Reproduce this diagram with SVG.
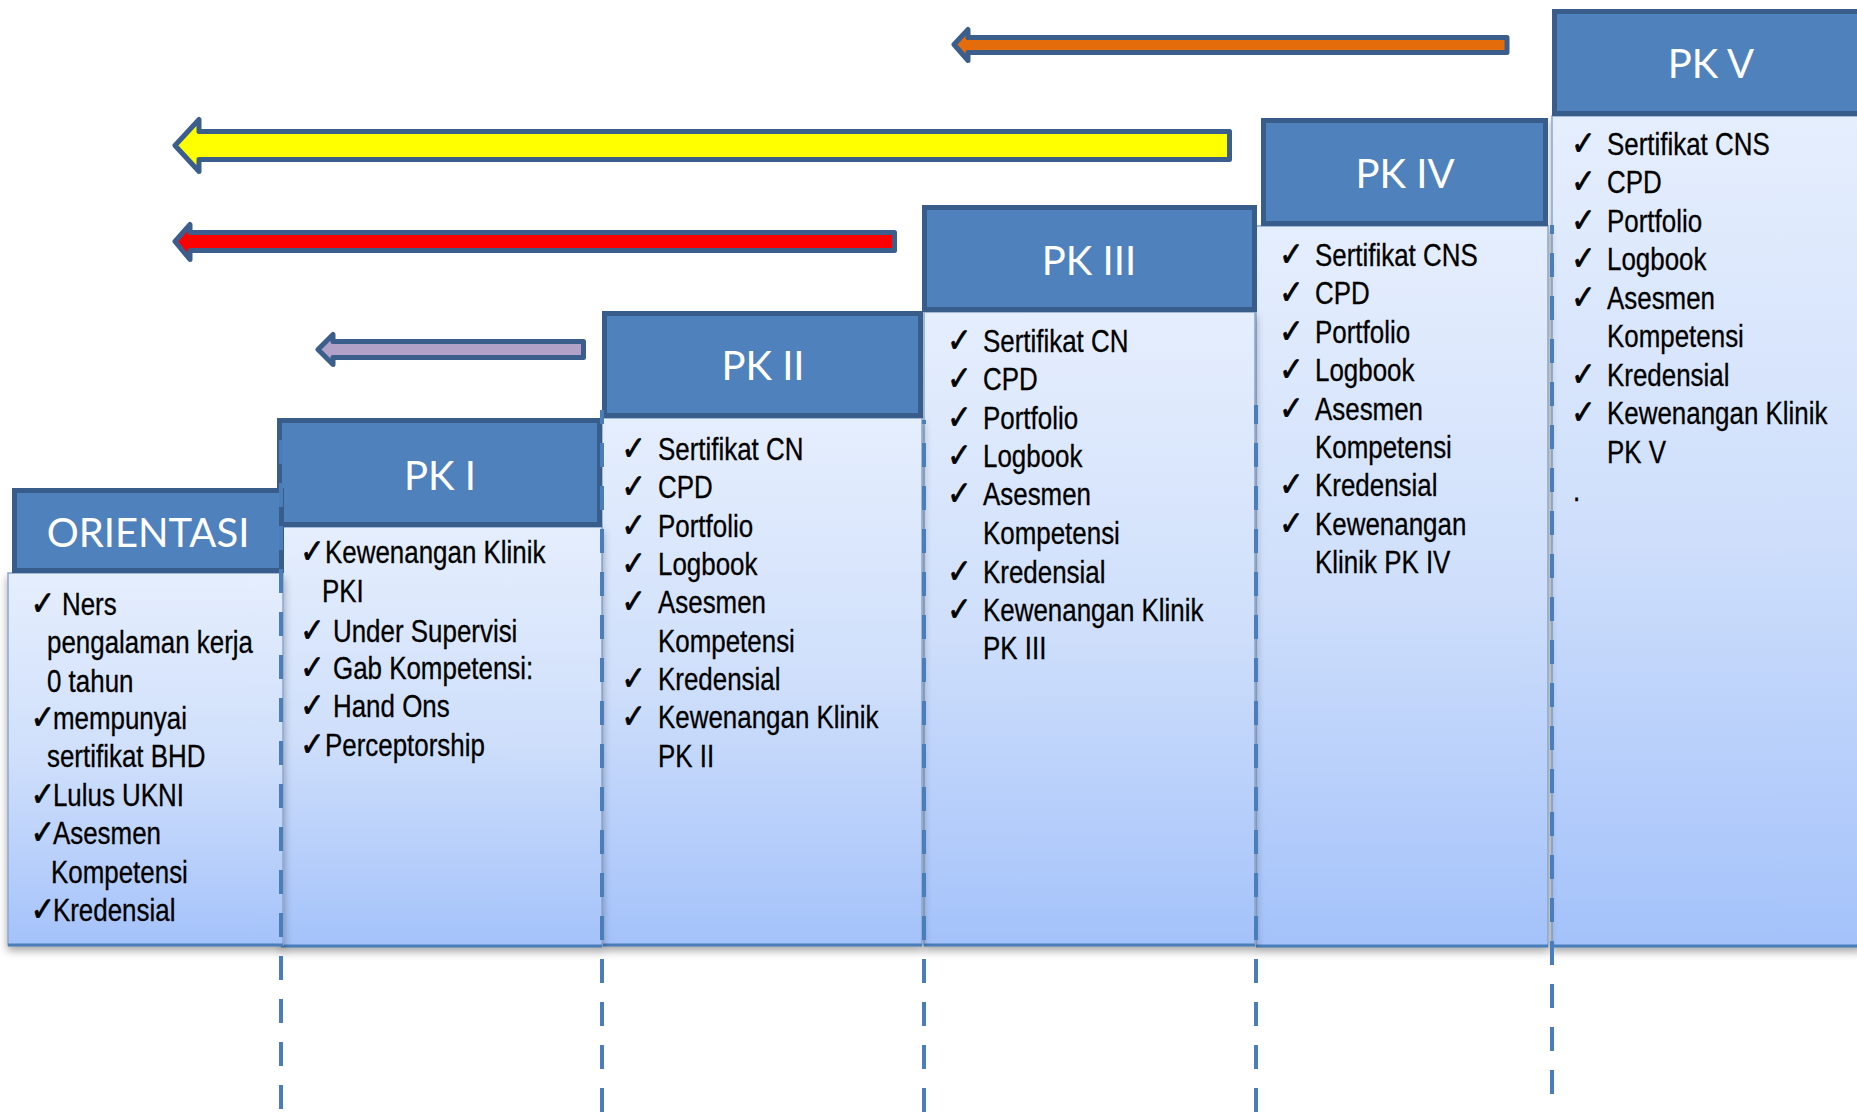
<svg xmlns="http://www.w3.org/2000/svg" width="1857" height="1113" viewBox="0 0 1857 1113">
  <defs>
    <linearGradient id="bodyFill" x1="0" y1="0" x2="0" y2="1">
      <stop offset="0" stop-color="#e5eefd"/>
      <stop offset="0.5" stop-color="#cfdffb"/>
      <stop offset="1" stop-color="#a4c2fa"/>
    </linearGradient>
    <filter id="shadow" x="-5%" y="-5%" width="110%" height="115%">
      <feDropShadow dx="0" dy="5" stdDeviation="4" flood-color="#000" flood-opacity="0.35"/>
    </filter>
    <style>
      .hd { fill:#4f81bd; stroke:#385d8a; stroke-width:5; }
      .bd { fill:url(#bodyFill); stroke:#8aa6cc; stroke-width:1.5; filter:url(#shadow); }
      .bl { stroke:#4a7ebb; stroke-width:3; }
      .ht { font-family:Lato, "Open Sans", sans-serif; font-size:40px; fill:#ffffff; text-anchor:middle; }
      .tx { font-family:"Liberation Sans", Arial, sans-serif; font-size:30.5px; fill:#000000; stroke:#000000; stroke-width:0.3; }
      .ck { font-family:"DejaVu Sans", sans-serif; font-size:34px; stroke-width:0.8; }
      .dash { stroke:#4a7ebb; stroke-width:4; stroke-dasharray:24 19; fill:none; }
      .arr { stroke:#3b5e8c; stroke-width:5; stroke-linejoin:round; }
    </style>
  </defs>
  <rect width="1857" height="1113" fill="#ffffff"/>

  <!-- level arrows -->
  <g id="arrows">
    <polygon class="arr" fill="#e46c0a" points="954,44.5 968,29.5 968,37.5 1507,37.5 1507,52.5 968,52.5 968,60.5"/>
    <polygon class="arr" fill="#ffff00" points="175,145.5 199,119.5 199,131.5 1229.5,131.5 1229.5,159.5 199,159.5 199,171.5"/>
    <polygon class="arr" fill="#ff0000" points="175,241.5 190,224.5 190,232.5 894.5,232.5 894.5,250.5 190,250.5 190,259.5"/>
    <polygon class="arr" fill="#b3a2c7" points="318,349.5 333,334.5 333,341.5 583.5,341.5 583.5,357.5 333,357.5 333,364.5"/>
  </g>

  <!-- PK V -->
  <g id="pk5">
    <rect class="bd" x="1552" y="116" width="310" height="830"/>
    <line class="bl" x1="1552" y1="946" x2="1857" y2="946"/>
    <rect class="hd" x="1554.5" y="11.5" width="320" height="102"/>
    <text class="ht" x="1711" y="78">PK V</text>
    <g class="tx" transform="translate(1607,0) scale(0.85,1)">
      <text y="155"><tspan class="ck" x="-42">✓</tspan><tspan x="0">Sertifikat CNS</tspan></text>
      <text y="193"><tspan class="ck" x="-42">✓</tspan><tspan x="0">CPD</tspan></text>
      <text y="232"><tspan class="ck" x="-42">✓</tspan><tspan x="0">Portfolio</tspan></text>
      <text y="270"><tspan class="ck" x="-42">✓</tspan><tspan x="0">Logbook</tspan></text>
      <text y="309"><tspan class="ck" x="-42">✓</tspan><tspan x="0">Asesmen</tspan></text>
      <text y="347" x="0">Kompetensi</text>
      <text y="386"><tspan class="ck" x="-42">✓</tspan><tspan x="0">Kredensial</tspan></text>
      <text y="424"><tspan class="ck" x="-42">✓</tspan><tspan x="0">Kewenangan Klinik</tspan></text>
      <text y="463" x="0">PK V</text>
      <text y="501" x="-40">.</text>
    </g>
  </g>

  <!-- PK IV -->
  <g id="pk4">
    <rect class="bd" x="1256" y="226" width="292" height="720"/>
    <line class="bl" x1="1256" y1="946" x2="1548" y2="946"/>
    <rect class="hd" x="1263.5" y="120.5" width="282" height="103"/>
    <text class="ht" x="1405" y="188">PK IV</text>
    <g class="tx" transform="translate(1315,0) scale(0.85,1)">
      <text y="266"><tspan class="ck" x="-42">✓</tspan><tspan x="0">Sertifikat CNS</tspan></text>
      <text y="304"><tspan class="ck" x="-42">✓</tspan><tspan x="0">CPD</tspan></text>
      <text y="343"><tspan class="ck" x="-42">✓</tspan><tspan x="0">Portfolio</tspan></text>
      <text y="381"><tspan class="ck" x="-42">✓</tspan><tspan x="0">Logbook</tspan></text>
      <text y="420"><tspan class="ck" x="-42">✓</tspan><tspan x="0">Asesmen</tspan></text>
      <text y="458" x="0">Kompetensi</text>
      <text y="496"><tspan class="ck" x="-42">✓</tspan><tspan x="0">Kredensial</tspan></text>
      <text y="535"><tspan class="ck" x="-42">✓</tspan><tspan x="0">Kewenangan</tspan></text>
      <text y="573" x="0">Klinik PK IV</text>
    </g>
  </g>

  <!-- PK III -->
  <g id="pk3">
    <rect class="bd" x="924" y="312" width="331" height="633"/>
    <line class="bl" x1="924" y1="945" x2="1255" y2="945"/>
    <rect class="hd" x="924.5" y="207.5" width="330" height="102"/>
    <text class="ht" x="1089" y="275">PK III</text>
    <g class="tx" transform="translate(983,0) scale(0.85,1)">
      <text y="352"><tspan class="ck" x="-42">✓</tspan><tspan x="0">Sertifikat CN</tspan></text>
      <text y="390"><tspan class="ck" x="-42">✓</tspan><tspan x="0">CPD</tspan></text>
      <text y="429"><tspan class="ck" x="-42">✓</tspan><tspan x="0">Portfolio</tspan></text>
      <text y="467"><tspan class="ck" x="-42">✓</tspan><tspan x="0">Logbook</tspan></text>
      <text y="505"><tspan class="ck" x="-42">✓</tspan><tspan x="0">Asesmen</tspan></text>
      <text y="544" x="0">Kompetensi</text>
      <text y="583"><tspan class="ck" x="-42">✓</tspan><tspan x="0">Kredensial</tspan></text>
      <text y="621"><tspan class="ck" x="-42">✓</tspan><tspan x="0">Kewenangan Klinik</tspan></text>
      <text y="659" x="0">PK III</text>
    </g>
  </g>

  <!-- PK II -->
  <g id="pk2">
    <rect class="bd" x="602" y="418" width="320" height="527"/>
    <line class="bl" x1="602" y1="945" x2="922" y2="945"/>
    <rect class="hd" x="604.5" y="313.5" width="316" height="102"/>
    <text class="ht" x="763" y="380">PK II</text>
    <g class="tx" transform="translate(658,0) scale(0.85,1)">
      <text y="460"><tspan class="ck" x="-43">✓</tspan><tspan x="0">Sertifikat CN</tspan></text>
      <text y="498"><tspan class="ck" x="-43">✓</tspan><tspan x="0">CPD</tspan></text>
      <text y="537"><tspan class="ck" x="-43">✓</tspan><tspan x="0">Portfolio</tspan></text>
      <text y="575"><tspan class="ck" x="-43">✓</tspan><tspan x="0">Logbook</tspan></text>
      <text y="613"><tspan class="ck" x="-43">✓</tspan><tspan x="0">Asesmen</tspan></text>
      <text y="652" x="0">Kompetensi</text>
      <text y="690"><tspan class="ck" x="-43">✓</tspan><tspan x="0">Kredensial</tspan></text>
      <text y="728"><tspan class="ck" x="-43">✓</tspan><tspan x="0">Kewenangan Klinik</tspan></text>
      <text y="767" x="0">PK II</text>
    </g>
  </g>

  <!-- PK I -->
  <g id="pk1">
    <rect class="bd" x="281" y="527" width="321" height="419"/>
    <line class="bl" x1="281" y1="946" x2="602" y2="946"/>
    <rect class="hd" x="279.5" y="420.5" width="320" height="104"/>
    <text class="ht" x="440" y="490">PK I</text>
    <g class="tx" transform="translate(325,0) scale(0.85,1)">
      <text y="563"><tspan class="ck" x="-29">✓</tspan><tspan x="0">Kewenangan Klinik</tspan></text>
      <text y="602" x="-3.5">PKI</text>
      <text y="642"><tspan class="ck" x="-29">✓</tspan><tspan x="9.4">Under Supervisi</tspan></text>
      <text y="679"><tspan class="ck" x="-29">✓</tspan><tspan x="9.4">Gab Kompetensi:</tspan></text>
      <text y="717"><tspan class="ck" x="-29">✓</tspan><tspan x="9.4">Hand Ons</tspan></text>
      <text y="756"><tspan class="ck" x="-29">✓</tspan><tspan x="0">Perceptorship</tspan></text>
    </g>
  </g>

  <!-- ORIENTASI -->
  <g id="orientasi">
    <rect class="bd" x="8" y="573" width="275" height="372"/>
    <line class="bl" x1="8" y1="945" x2="283" y2="945"/>
    <rect class="hd" x="14.5" y="490.5" width="267" height="80"/>
    <text class="ht" x="148" y="547">ORIENTASI</text>
    <g class="tx" transform="translate(47,0) scale(0.85,1)">
      <text y="615"><tspan class="ck" x="-19">✓</tspan><tspan x="17.6">Ners</tspan></text>
      <text y="653" x="0">pengalaman kerja</text>
      <text y="692" x="0">0 tahun</text>
      <text y="729"><tspan class="ck" x="-19">✓</tspan><tspan x="7">mempunyai</tspan></text>
      <text y="767" x="0">sertifikat BHD</text>
      <text y="806"><tspan class="ck" x="-19">✓</tspan><tspan x="7">Lulus UKNI</tspan></text>
      <text y="844"><tspan class="ck" x="-19">✓</tspan><tspan x="7">Asesmen</tspan></text>
      <text y="883" x="4.7">Kompetensi</text>
      <text y="921"><tspan class="ck" x="-19">✓</tspan><tspan x="7">Kredensial</tspan></text>
    </g>
  </g>

  <!-- level boundary guides -->
  <g id="guides">
    <line class="dash" x1="281" y1="440" x2="281" y2="1113"/>
    <line class="dash" x1="602" y1="410" x2="602" y2="1113" stroke-dashoffset="10"/>
    <line class="dash" x1="924" y1="420" x2="924" y2="1113" stroke-dashoffset="20"/>
    <line class="dash" x1="1256" y1="405" x2="1256" y2="1113" stroke-dashoffset="5"/>
    <line class="dash" x1="1552" y1="225" x2="1552" y2="1113" stroke-dashoffset="15"/>
  </g>
</svg>
